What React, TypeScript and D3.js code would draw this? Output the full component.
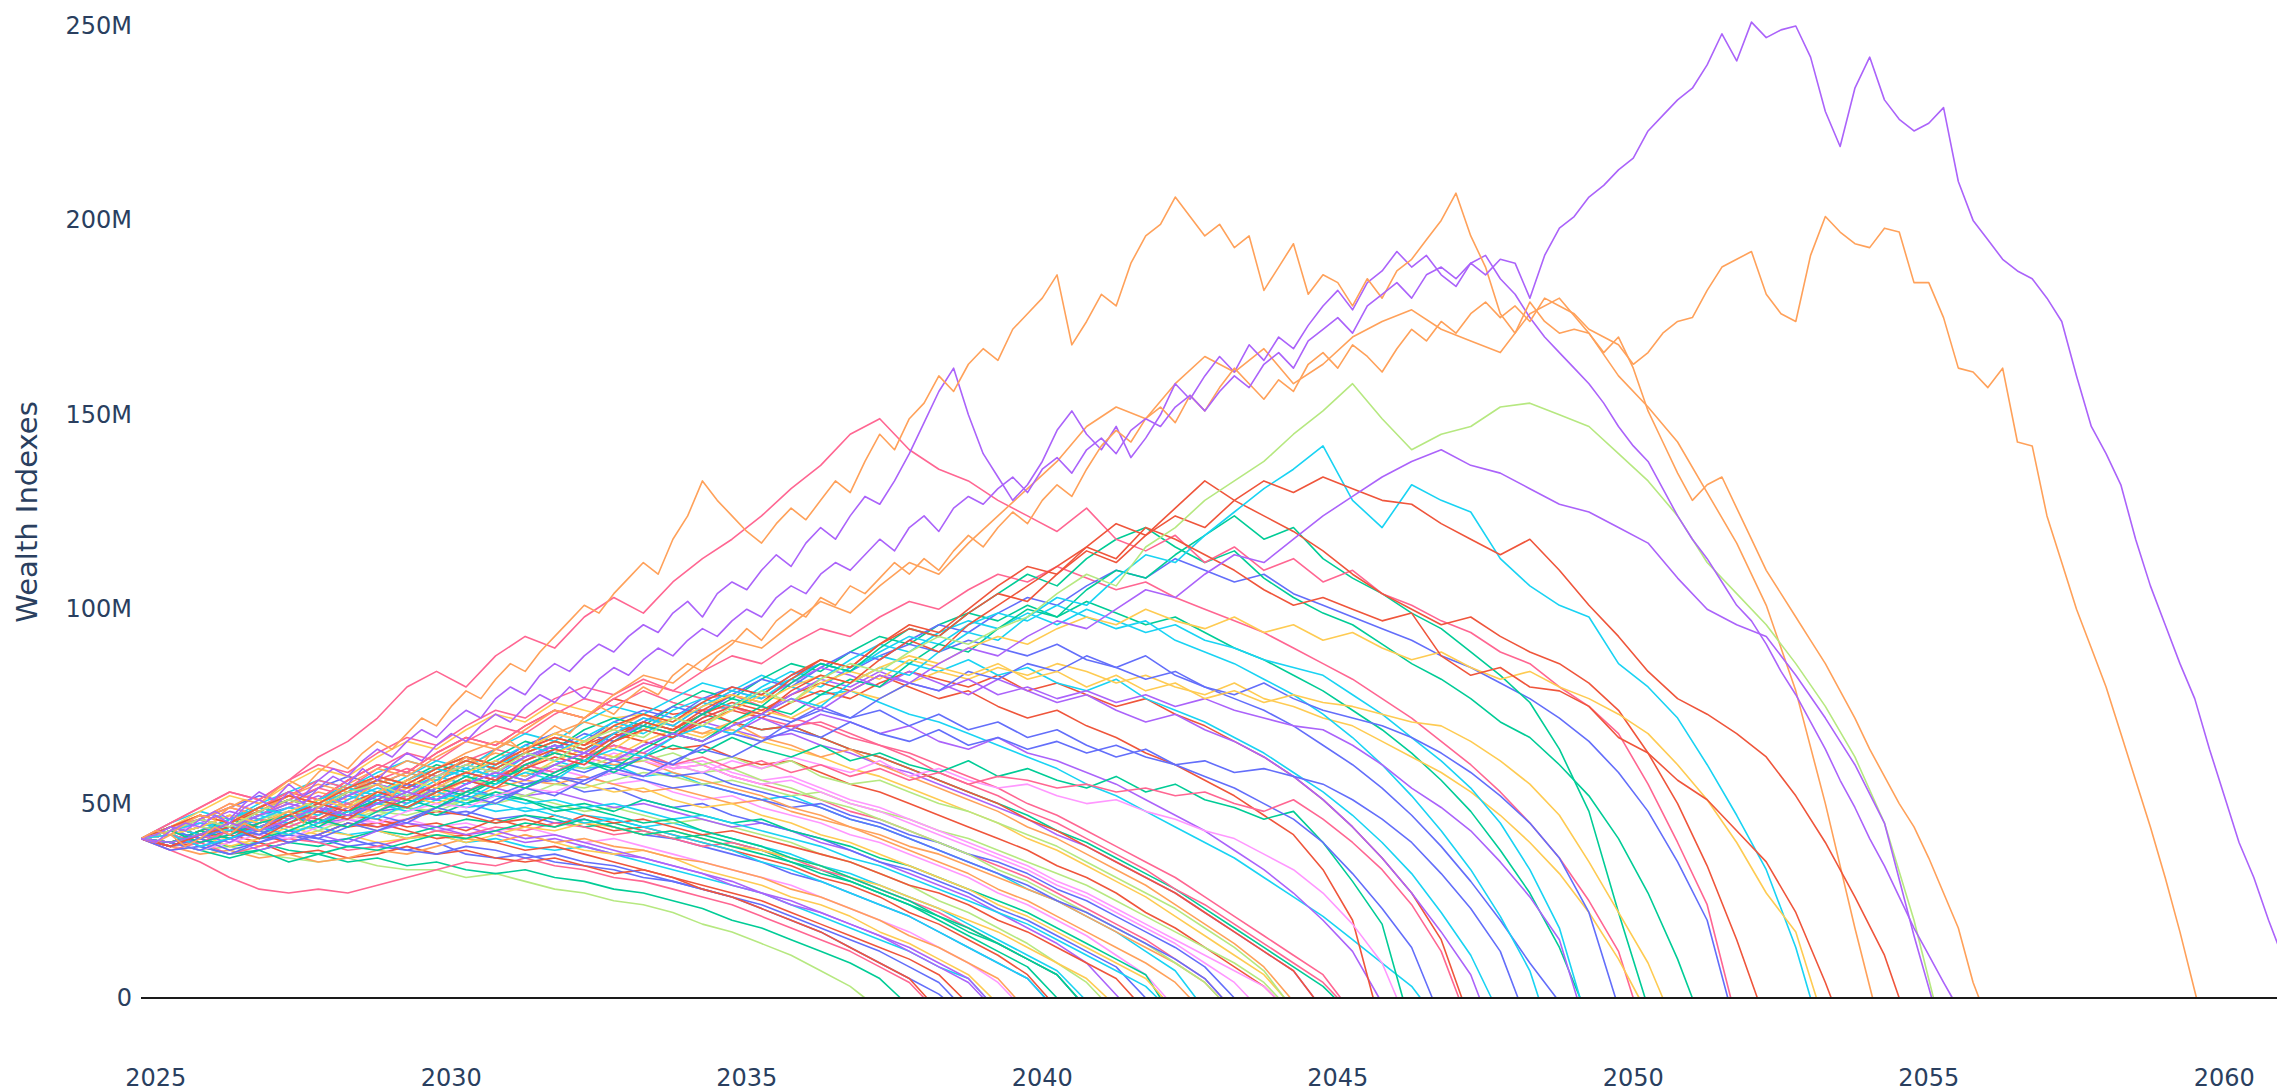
import React from 'react';
import * as d3 from 'd3';

// ---------- data ----------
const START_YEAR = 2024.75;
const X_TICKS = [2025, 2030, 2035, 2040, 2045, 2050, 2055, 2060];
const Y_TICKS = [0, 50, 100, 150, 200, 250]; // millions
const Y_TITLE = 'Wealth Indexes';
const PALETTE = ['#636efa', '#EF553B', '#00cc96', '#ab63fa', '#FFA15A', '#19d3f3', '#FF6692', '#B6E880', '#FF97FF', '#FECB52'];

// Paths that run out early (values in M every half year from START_YEAR)
const earlyPaths: number[][] = [
  [41,40,38,39,37,36,35,36,34,33,33,31,32,30,28,27,25,24,22,19,17,14,11,7,3],
  [41,43,41,39,40,38,37,35,36,34,35,33,32,33,31,30,28,27,25,23,20,18,15,12,9,5],
  [41,38,35,31,28,27,28,27,29,31,33,35,34,36,34,33,31,30,28,26,24,21,18,15,12,8,4],
  [41,42,44,43,41,42,40,41,39,38,40,37,36,37,35,34,33,31,30,28,26,23,20,17,13,9,5,1],
  [41,39,40,42,40,37,38,36,37,39,37,38,36,35,36,34,32,33,31,29,27,25,22,19,16,13,10,6],
  [41,43,45,44,46,43,44,42,43,41,42,40,41,39,38,39,37,35,33,31,29,27,24,21,18,15,12,8,5],
  [41,42,40,43,45,47,45,46,44,45,43,44,42,40,41,39,37,36,34,32,29,27,24,22,19,16,12,8,4],
  [41,40,42,41,39,41,43,42,40,41,43,41,40,42,40,38,37,38,36,33,31,29,26,24,21,17,14,10,6],
  [41,44,42,45,48,46,49,47,45,46,44,45,43,44,42,40,41,39,37,35,33,31,29,26,23,20,17,13,9,4],
  [41,39,37,38,36,37,35,36,38,37,39,41,40,42,40,41,39,38,36,35,33,31,28,26,23,20,16,13,9,5],
  [41,43,46,44,47,49,48,50,48,49,47,48,46,47,45,46,44,42,41,39,37,35,32,30,27,24,21,17,13,9,5],
  [41,40,43,45,44,42,45,47,46,44,45,43,46,44,47,45,43,44,42,40,38,36,34,31,29,26,22,19,15,11,6],
  [41,42,39,37,38,40,39,41,43,42,44,46,45,47,46,44,45,43,41,42,40,38,35,33,30,27,24,20,16,12,8],
  [41,44,47,45,48,51,49,52,50,53,51,49,50,48,49,47,46,44,45,43,41,39,37,34,32,29,26,23,19,15,11,7],
  [41,38,40,37,39,41,40,38,39,41,43,42,44,43,45,44,42,43,41,39,40,38,36,33,31,28,25,22,18,14,10,6],
  [41,43,41,44,46,45,43,46,48,47,49,51,50,52,50,48,49,47,45,46,44,42,40,37,35,32,29,25,22,18,14,9,4],
  [41,42,45,48,46,49,52,50,53,55,53,56,54,52,53,51,49,50,48,46,44,45,43,40,38,35,32,29,26,22,18,14,9],
  [41,40,42,39,41,44,42,45,43,41,42,40,42,44,43,45,44,42,43,41,39,38,36,34,31,29,26,23,20,17,13,9,5],
  [41,44,46,49,52,50,54,57,55,58,56,59,57,55,56,53,54,51,49,50,47,45,43,41,38,35,33,30,27,23,20,16,12,8],
  [41,39,41,43,42,40,42,45,44,46,48,47,45,46,44,47,45,46,44,42,43,41,39,37,35,32,29,27,24,20,17,13,9,5],
  [41,43,45,43,46,48,51,49,52,54,52,55,58,56,59,57,55,56,53,51,52,49,47,45,42,40,37,34,31,27,24,20,16,11,6],
  [41,42,40,42,45,47,45,48,50,49,47,50,52,51,49,50,48,51,49,47,45,46,43,41,39,36,34,31,28,25,22,18,14,10,6],
  [41,45,48,46,50,53,56,54,58,61,59,62,60,63,61,59,60,57,58,55,53,51,52,49,46,44,41,38,35,32,28,25,21,17,12,7],
  [41,40,43,41,44,47,46,49,48,51,53,51,54,56,55,57,55,53,54,52,50,51,48,46,44,42,39,37,34,31,28,25,21,17,13,9,4],
  [41,43,46,49,47,51,54,52,56,59,57,61,64,62,65,63,61,62,59,60,57,55,53,51,48,46,43,40,37,34,31,27,23,19,15,10,5],
  [41,39,42,44,43,45,48,47,50,52,51,54,52,55,57,56,58,56,54,55,53,51,49,50,47,45,42,40,37,35,32,28,25,21,17,13,8],
  [41,44,42,46,49,52,50,54,57,55,59,62,60,64,67,65,68,66,64,65,62,60,61,58,55,53,50,47,44,41,38,34,31,27,22,18,13,8,3],
  [41,42,45,43,47,50,48,52,55,53,57,60,58,62,65,63,67,70,68,71,69,67,68,65,63,60,58,55,52,49,46,42,39,35,31,27,22,17,12,7],
  [41,40,38,41,43,42,45,44,47,49,48,51,53,52,55,54,56,58,57,55,56,54,52,53,50,48,46,43,41,38,35,32,29,25,21,17,13,9,4],
  [41,43,46,44,48,51,49,53,56,54,58,61,59,63,66,64,68,71,69,73,71,69,70,67,64,62,59,56,53,50,47,43,40,36,32,28,23,18,13,8,3],
  [41,44,48,52,50,55,59,57,62,66,64,69,73,71,76,74,72,73,70,68,69,66,64,62,59,57,54,51,48,45,41,38,34,30,26,21,16,11,6],
  [41,40,42,45,43,46,49,47,50,48,51,53,52,50,51,49,50,48,46,47,45,43,41,39,36,34,31,28,25,22,19,15,11,7,3],
  [41,38,39,37,40,42,41,39,40,38,37,39,38,36,37,35,34,32,30,28,26,24,21,18,15,12,8,4],
  [41,42,44,47,45,48,46,44,45,43,41,42,40,38,39,37,35,33,31,28,26,23,20,17,13,9,5],
  [41,45,49,53,51,56,60,58,63,67,65,70,74,72,77,80,78,82,79,77,78,75,72,70,67,65,62,58,55,52,48,45,41,37,33,28,24,19,14,9,4],
  [41,43,40,42,45,48,46,50,53,51,55,58,56,60,63,61,65,62,60,61,58,56,57,54,51,49,46,43,40,37,34,30,27,23,19,15,11,7,3],
  [41,40,43,46,44,47,45,48,51,49,52,50,53,51,48,49,47,45,46,43,41,39,36,34,31,28,25,21,18,14,10,6],
  [41,42,39,41,38,40,42,40,43,45,44,42,43,41,42,40,38,36,34,32,30,27,25,22,19,16,13,9,5],
  [41,44,46,49,47,50,53,51,55,58,56,60,63,61,64,62,60,61,58,56,54,52,49,47,44,41,38,35,32,28,25,21,17,13,9,4],
  [41,43,41,45,48,46,50,53,51,49,52,50,48,49,47,45,46,44,42,40,38,35,33,30,27,24,21,17,13,9,5],
  [41,40,42,45,48,51,49,53,56,54,58,61,59,63,66,64,62,63,60,58,59,56,54,51,49,46,43,40,37,33,30,26,22,18,14,9,4],
  [41,42,44,42,45,47,50,48,52,55,53,56,59,57,60,58,61,59,57,58,55,53,51,49,46,44,41,38,35,32,29,25,22,18,14,10,5],
  [41,44,47,45,49,53,51,56,60,58,63,67,65,70,74,72,77,75,73,74,71,69,70,67,64,62,59,56,53,50,46,43,39,35,31,27,22,17,12,7],
  [41,39,41,44,42,45,48,46,49,52,50,53,56,54,57,55,53,54,51,49,50,47,45,42,40,37,34,31,28,24,21,17,13,9,5],
  [41,43,46,50,48,52,56,54,59,63,61,66,70,68,73,77,75,79,76,74,75,72,70,71,68,65,63,60,57,54,50,47,43,39,35,31,26,21,16,11,6],
  [41,40,38,36,38,35,37,39,38,40,42,41,43,45,44,46,44,42,43,41,39,37,35,32,30,27,24,21,17,14,10,6],
  [41,42,45,43,46,49,47,51,54,52,55,58,56,59,62,60,63,61,59,60,57,55,56,53,50,48,45,42,39,36,33,29,26,22,18,14,9,4],
  [41,44,42,46,49,47,51,55,53,57,61,59,64,68,66,71,75,73,77,81,79,83,80,78,79,76,73,71,68,65,62,59,55,52,48,44,40,36,31,26,21,15,9,3],
];
// Year each early path reaches zero
const earlyEnds = [
  2037.0, 2037.6, 2038.0, 2038.3, 2038.65, 2039.05, 2039.0, 2039.15, 2039.5, 2039.55,
  2040.05, 2040.1, 2040.25, 2040.7, 2040.6, 2041.0, 2041.3, 2041.1, 2041.75, 2041.55,
  2042.1, 2042.0, 2042.6, 2043.0, 2043.05, 2043.25, 2043.95, 2044.6, 2044.0, 2044.95,
  2044.1, 2041.95, 2038.5, 2038.05, 2045.0, 2043.95, 2040.6, 2039.05, 2042.5, 2040.05,
  2043.0, 2043.05, 2044.6, 2042.05, 2045.05, 2040.6, 2043.5, 2046.4,
];
// Trace number of each early path (sets the colour in the default cycle)
const earlyTraces = [
  7, 2, 6, 0, 1, 5, 3, 9, 8, 4,
  0, 1, 2, 5, 6, 7, 3, 9, 0, 1,
  8, 2, 5, 4, 6, 0, 1, 3, 7, 2,
  9, 5, 0, 1, 6, 8, 2, 3, 4, 5,
  7, 0, 1, 9, 6, 2, 8, 5,
];

// Middle paths peaking around 60-110M (half-year steps)
const midPaths: number[][] = [
  [41,43,46,44,48,51,49,53,57,55, 59,62,60,65,68,66,71,74,72,77, 80,78,83,86,84,88,91,89,92,90, 88,91,87,85,88,83,80,77,74,70, 65,60,54,47,39,30,20,9],
  [41,40,43,41,45,48,46,50,53,51, 55,58,56,60,63,61,66,69,67,71, 74,72,76,79,77,81,84,82,80,83, 79,81,78,75,77,73,70,66,62,57, 51,44,36,27,15],
  [41,44,42,45,49,47,51,54,52,56, 60,58,62,66,64,69,72,70,75,79, 77,82,86,84,89,93,91,96,99,97, 101,98,102,99,96,98,94,90,87,83, 79,74,69,63,56,48,38,27,13],
  [41,42,40,43,46,44,47,50,48,52, 55,53,57,60,58,62,65,63,67,70, 68,72,69,73,71,68,70,66,64,67, 63,61,58,55,51,47,43,38,33,27, 20,12],
  [41,43,41,44,47,45,49,52,50,54, 57,55,60,63,61,66,70,68,72,76, 74,79,82,80,85,88,86,84,87,83, 85,81,79,82,77,74,71,67,63,58, 53,47,40,32,22,11],
  [41,44,47,45,49,53,51,56,60,58, 63,67,65,70,74,72,77,81,79,84, 88,86,91,95,93,98,102,100,105,109, 107,111,108,105,107,103,100,97,94,90, 86,82,77,72,66,60,53,45,36,25, 12],
  [41,43,46,50,48,52,55,53,57,61, 59,63,66,64,68,71,69,73,70,68, 71,67,65,62,64,60,57,54,51,48, 44,41,37,33,29,24,19,14,8],
  [41,40,42,45,43,46,49,47,51,54, 52,56,59,57,61,64,62,66,69,67, 71,74,72,76,79,77,81,84,82,85, 83,86,84,81,83,80,78,81,77,75, 72,70,66,62,58,53,47,40,32,22, 10],
  [41,42,44,43,46,48,47,50,52,51, 54,56,55,58,60,59,62,61,63,60, 62,59,61,57,55,56,53,50,48,45, 42,39,35,31,27,23,18,13,7],
  [41,39,42,44,42,46,49,47,51,55, 53,57,61,59,64,68,66,71,75,73, 78,82,80,85,89,87,92,96,94,99, 103,101,106,110,108,113,110,107,109,104, 101,98,95,92,88,85,81,77,72,66, 58,48,35,20],
];
const midEnds = [2048.7, 2047.1, 2049.1, 2045.7, 2047.6, 2050.0, 2044.2, 2050.1, 2044.1, 2051.6];
const midTraces = [0, 1, 2, 3, 5, 6, 4, 9, 7, 0];

// Paths lasting into the 2045-2055 range (half-year steps)
const latePaths: number[][] = [
  [41,44,42,45,48,51,49,53,56,54, 58,61,59,63,66,64,68,71,69,73, 76,74,78,81,79,83,80,77,79,75, 72,74,70,67,63,60,56,52,47,42, 33,20],
  [41,40,38,40,42,41,44,46,45,48, 50,49,52,54,53,56,58,57,60,58, 61,59,62,60,58,61,57,59,56,54, 55,52,50,51,48,46,43,41,37,33, 27,19,9],
  [41,40,43,41,44,47,45,49,52,50, 54,52,56,59,57,61,58,62,65,63, 67,64,62,65,61,63,60,58,61,57, 59,56,54,57,53,55,51,49,46,48, 40,30,19],
  [41,43,41,44,42,45,48,46,50,53, 51,55,58,56,60,63,61,65,68,66, 70,73,71,75,72,74,70,73,69,71, 67,69,65,62,64,60,57,54,50,46, 40,32,23,13],
  [41,42,40,43,46,44,47,50,48,52, 55,53,57,60,58,62,65,63,60,62, 59,61,58,60,57,59,56,58,55,57, 56,54,55,53,54,52,53,50,48,51, 46,40,33,24,12],
  [41,39,42,40,44,47,45,49,52,50, 54,58,56,61,65,63,68,72,70,75, 79,77,81,85,83,80,84,81,78,82, 79,76,78,74,71,73,69,66,62,57, 51,44,36,27,17,6],
  [41,40,38,41,43,40,42,45,43,46, 49,47,51,54,52,56,59,57,61,64, 62,66,69,67,71,68,66,69,65,67, 64,66,63,65,62,60,61,58,59,57, 55,51,46,40,32,23,12],
  [41,43,45,43,46,49,47,51,54,52, 56,59,57,62,65,63,68,72,70,75, 79,77,82,86,84,89,93,91,96,99, 97,101,98,95,97,92,89,86,82,78, 73,67,60,52,43,33,21,7],
  [41,43,46,44,47,50,48,52,55,53, 57,60,58,62,65,63,67,70,68,72, 75,73,78,82,80,84,81,79,82,78, 80,77,79,76,78,75,77,74,72,70, 69,65,60,54,49,43,35,26,15],
  [41,44,42,46,49,47,51,54,52,56, 59,57,61,65,63,67,71,69,74,77, 75,80,84,82,87,91,89,94,97,95, 99,96,100,97,94,96,92,90,87,85, 83,78,73,67,61,54,45,33,18],
  [41,39,41,38,40,43,41,44,47,45, 49,52,50,54,57,55,59,62,60,65, 68,66,71,74,72,77,81,79,84,82, 86,84,88,85,82,84,80,78,81,77, 74,72,70,67,63,58,52,45,36,22],
  [41,40,42,44,41,43,46,44,48,51, 49,53,56,54,58,61,59,64,68,66, 71,75,73,78,82,80,86,91,89,95, 100,98,105,110,108,114,119,124,118,121, 113,108,104,99,95,89,83,76,64,48, 22],
  [41,42,44,47,45,48,51,49,53,56, 54,58,61,59,63,66,64,69,72,70, 74,78,76,81,84,82,87,85,83,86, 82,84,80,83,79,81,77,79,76,78, 76,75,73,71,70,66,61,55,47,35, 22,9],
  [41,43,40,42,45,47,44,48,51,49, 53,57,55,60,63,61,66,70,68,73, 77,75,81,86,84,90,95,93,99,104, 109,106,113,118,121,116,112,115,108,103, 99,96,91,86,82,77,71,67,60,52, 41,27,10],
  [41,45,49,53,51,56,62,66,72,80, 84,80,88,93,90,98,103,99,107,113, 118,124,131,137,145,149,141,136,133,128, 124,120,126,118,115,119,112,116,110,113, 107,110,104,101,97,94,89,86,80,75, 68,55,40,24],
  [41,39,42,45,43,47,50,48,53,51, 55,58,56,61,64,62,67,71,69,74, 78,76,82,87,85,91,96,94,100,106, 111,109,116,122,119,126,133,128,124,120, 115,109,104,100,96,98,93,89,86,81, 74,63,50,34,15],
  [41,42,39,41,44,42,45,48,46,50, 53,51,55,58,56,61,64,62,67,70, 68,73,77,75,81,85,83,89,94,92, 98,103,101,108,114,112,119,125,131,136, 142,128,121,132,128,125,113,106,101,98, 86,80,72,60,47,33,13],
  [41,44,47,45,49,52,50,54,57,55, 59,62,60,64,68,66,70,73,71,75, 78,76,80,83,81,85,88,86,90,93, 91,95,98,96,100,97,95,98,94,96, 92,94,90,87,89,85,82,84,80,77, 73,68,60,51,40,27,17],
  [41,39,42,44,41,45,48,46,51,49, 53,56,54,59,62,60,66,69,67,72, 75,73,79,83,81,87,92,89,96,101, 106,111,116,113,121,118,114,110,105,101, 103,100,97,99,88,83,85,80,79,75, 67,63,56,51,43,35,22,4],
  [41,43,46,44,48,52,50,55,59,57, 62,66,64,69,74,72,78,83,81,87, 92,90,96,102,99,106,112,109,117,124, 131,138,147,152,149,158,165,161,167,158, 163,170,174,177,172,169,166,176,180,171, 160,152,143,130,117,101,79,50,18],
  [41,44,47,45,49,52,50,54,57,55, 59,62,60,64,67,65,70,73,71,76, 80,78,83,87,85,91,95,93,99,104, 102,109,115,112,119,124,121,128,133,130, 134,131,128,127,122,118,114,118,110,101, 93,84,77,73,68,62,52,40,26,11],
  [41,43,46,44,48,51,49,53,55,52, 57,60,58,63,61,66,69,67,72,70, 75,79,76,82,86,84,89,93,91,95, 98,104,109,106,116,121,128,133,138,145, 151,158,149,141,145,147,152,153,150,147, 140,133,124,112,104,96,86,75,62,45, 20],
  [41,40,42,45,43,46,49,47,50,53, 51,55,58,56,60,63,61,65,68,66, 70,73,77,74,79,83,81,86,90,88, 93,97,95,100,105,103,109,114,112,118, 124,129,134,138,141,137,135,131,127,125, 121,117,108,100,96,93,83,72,60,45, 16],
];
const lateEnds = [
  2045.6, 2046.0, 2046.1, 2046.6, 2047.05, 2047.4, 2048.05, 2048.4, 2049.05, 2049.1,
  2049.7, 2050.2, 2050.5, 2051.0, 2051.65, 2052.1, 2053.0, 2053.1, 2053.35, 2054.05,
  2054.5, 2055.08, 2055.05,
];
const lateTraces = [1, 8, 2, 0, 6, 3, 0, 5, 3, 5, 0, 2, 9, 2, 6, 1, 5, 9, 1, 4, 1, 7, 3];

// The four highest paths, quarter-year steps
const topPaths: number[][] = [
  [41,
   42,44,43,46, 48,46,50,53, 51,55,52,56, 59,57,61,64, 62,66,69,67, 71,74,72,77, 80,78,83,86, 84,88,91,89,
   93,96,94,99, 102,98,104,107, 105,110,114,111, 117,121,118,124, 129,127,133,140, 148,156,162,150,
   140,134,128,132, 138,146,151,145, 141,147,139,144, 150,158,154,160, 165,161,168,164, 170,167,173,178,
   182,177,184,187, 192,188,191,186, 183,189,191,185, 181,175,170,166, 162,158,153,147, 142,138,131,124,
   118,113,107,101, 97,91,84,78, 71,64,56,49, 41,34,26,18, 11,4],
  [41,
   43,42,45,47, 46,49,51,50, 53,56,54,58, 61,59,63,66, 64,68,72,70, 75,79,77,82, 86,84,89,93, 97,101,99,104,
   108,112,109,118, 124,133,128,124, 120,117,122,126, 123,128,133,130, 138,145,141,149, 153,160,156,163,
   167,164,172,176, 180,186,168,174, 181,178,189,196, 199,206,201,196, 199,193,196,182, 188,194,181,186,
   184,178,185,180, 187,190,195,200, 207,196,188,176, 171,179,174,171, 172,171,166,170, 162,151,143,135,
   128,132,134,126, 118,110,104,98, 92,86,79,72, 64,57,50,44, 36,27,18,4],
  [41,
   40,42,39,41, 44,42,45,43, 46,48,45,49, 51,49,53,55, 52,56,58,55, 59,62,60,64, 66,63,67,70, 68,72,75,73,
   77,80,78,83, 86,84,88,91, 95,92,97,100, 98,103,101,106, 104,108,112,109, 113,110,115,119, 116,121,125,122,
   128,132,129,136, 142,146,143,149, 152,148,155,151, 157,162,158,154, 159,156,163,166, 162,168,165,161,
   167,172,169,174, 171,176,179,175, 178,174,180,178, 176,172,170,168, 163,166,171,174, 175,182,188,190,
   192,181,176,174, 191,201,197,194, 193,198,197,184, 184,175,162,161, 157,162,143,142, 124,112,100,90,
   80,68,56,44, 31,17],
  [41,
   40,43,45,44, 47,45,49,51, 49,53,50,54, 57,55,59,56, 60,63,61,65, 68,66,70,73, 71,75,78,76, 80,77,82,85,
   83,87,90,88, 92,95,93,97, 100,98,103,106, 104,109,112,110, 114,118,115,121, 124,120,126,129, 127,131,134,130,
   136,139,135,141, 144,140,146,149, 147,152,155,151, 156,160,157,163, 166,162,169,172, 175,171,178,181,
   184,180,186,188, 185,189,186,190, 189,180,191,198, 201,206,209,213, 216,223,227,231, 234,240,248,241,
   251,247,249,250, 242,228,219,234, 242,231,226,223, 225,229,210,200, 195,190,187,185, 180,174,160,147,
   140,132,118,106, 96,86,77,64, 52,40,31,20, 10],
];
const topEnds = [2055.4, 2055.85, 2059.53, 2061.3];
const topTraces = [3, 4, 4, 3];

// ---------- layout ----------
const W = 2277;
const H = 1091;
const PLOT_LEFT = 141;
const PLOT_RIGHT = W;
const ZERO_Y = 998;
const TOP_Y = 26;
const PX_PER_YEAR = 59.1;

type Pt = [number, number];

function buildSeries(paths: number[][], ends: number[], traces: number[], step: number) {
  return paths.map((vals, k) => {
    const pts: Pt[] = vals.map((v, i) => [START_YEAR + i * step, v]);
    const lastX = pts[pts.length - 1][0];
    const end = Math.max(ends[k], lastX + 0.08);
    pts.push([end, 0]);
    return { pts, color: PALETTE[traces[k] % PALETTE.length] };
  });
}

export default function App() {
  const x = d3
    .scaleLinear()
    .domain([START_YEAR, START_YEAR + (PLOT_RIGHT - PLOT_LEFT) / PX_PER_YEAR])
    .range([PLOT_LEFT, PLOT_RIGHT]);
  const y = d3.scaleLinear().domain([0, 250]).range([ZERO_Y, TOP_Y]);
  const line = d3
    .line<Pt>()
    .x((d) => x(d[0]))
    .y((d) => y(d[1]));

  const series = [
    ...buildSeries(earlyPaths, earlyEnds, earlyTraces, 0.5),
    ...buildSeries(midPaths, midEnds, midTraces, 0.5),
    ...buildSeries(latePaths, lateEnds, lateTraces, 0.5),
    ...buildSeries(topPaths, topEnds, topTraces, 0.25),
  ];

  const font = "'DejaVu Sans', Verdana, sans-serif";
  const textColor = '#2a3f5f';

  return (
    <svg
      width={W}
      height={H}
      style={{ position: 'absolute', left: 0, top: 0, background: '#fff', display: 'block' }}
    >
      <defs>
        <clipPath id="plotclip">
          <rect x={PLOT_LEFT} y={0} width={PLOT_RIGHT - PLOT_LEFT} height={ZERO_Y + 1} />
        </clipPath>
      </defs>
      <g clipPath="url(#plotclip)">
        {series.map((s, i) => (
          <path
            key={i}
            d={line(s.pts) || ''}
            fill="none"
            stroke={s.color}
            strokeWidth={1.6}
            strokeLinejoin="round"
          />
        ))}
      </g>
      <line x1={PLOT_LEFT} x2={PLOT_RIGHT} y1={y(0)} y2={y(0)} stroke="#1a1a1a" strokeWidth={2.2} />
      {Y_TICKS.map((t) => (
        <text
          key={'y' + t}
          x={132}
          y={y(t)}
          textAnchor="end"
          dominantBaseline="central"
          fontFamily={font}
          fontSize={24}
          fill={textColor}
        >
          {t === 0 ? '0' : `${t}M`}
        </text>
      ))}
      {X_TICKS.map((t) => (
        <text
          key={'x' + t}
          x={x(t)}
          y={1078}
          textAnchor="middle"
          dominantBaseline="central"
          fontFamily={font}
          fontSize={24}
          fill={textColor}
        >
          {t}
        </text>
      ))}
      <text
        transform={`translate(27, ${(y(0) + y(250)) / 2}) rotate(-90)`}
        textAnchor="middle"
        dominantBaseline="central"
        fontFamily={font}
        fontSize={29}
        fill={textColor}
      >
        {Y_TITLE}
      </text>
    </svg>
  );
}
